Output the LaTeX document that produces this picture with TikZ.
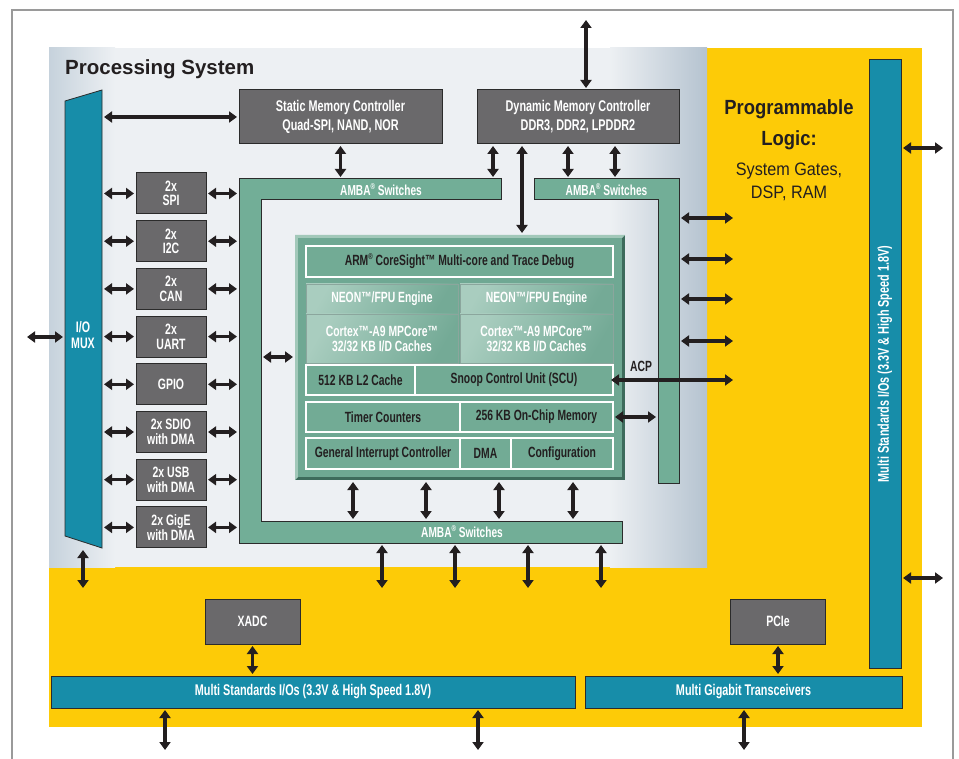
\documentclass[tikz,border=0pt]{standalone}
\usepackage{fontspec}
\setmainfont{Liberation Sans}
\newfontfamily\cond[FakeStretch=0.7]{Liberation Sans}
\newfontfamily\plfont[FakeStretch=0.9]{Liberation Sans}
\usetikzlibrary{arrows.meta,calc}
\definecolor{plyellow}{HTML}{FDCB07}
\definecolor{tealc}{HTML}{178DA9}
\definecolor{boxgray}{HTML}{6A696B}
\definecolor{ambagreen}{HTML}{72AE97}
\definecolor{coregreen}{HTML}{6FA893}
\definecolor{cellgreen}{HTML}{72AB95}
\definecolor{coredark}{HTML}{3E6B5C}
\definecolor{corelight}{HTML}{A2C8B9}
\definecolor{neonlight}{HTML}{A9CDBF}
\definecolor{neondark}{HTML}{74AA96}
\definecolor{lined}{HTML}{2B2B2B}
\definecolor{arrowc}{HTML}{231F20}
\definecolor{txtdark}{HTML}{231F20}
\definecolor{bglight}{HTML}{EDF0F3}
\definecolor{bgleft}{HTML}{C6D2DC}
\definecolor{bgright}{HTML}{B5C3D0}
\definecolor{framegray}{HTML}{9A9A9A}
\newcommand\cf{\cond\bfseries}
\newcommand\regm{\raisebox{0.4em}{\fontsize{8.5}{8.5}\selectfont ®}}
\begin{document}
\begin{tikzpicture}[x=1pt,y=-1pt,
  arr/.style={draw=arrowc, line width=3.4pt, arrows={Triangle[width=11pt,length=8pt]-Triangle[width=11pt,length=8pt]}},
  gap/.style={shorten >=2pt, shorten <=2pt},
  gbox/.style={draw=lined, line width=1pt, fill=boxgray, text=white, font=\cf\fontsize{15}{14.5}\selectfont, align=center, inner sep=0pt, outer sep=0pt},
  tbox/.style={draw=lined, line width=1pt, fill=tealc, text=white, font=\cf\fontsize{15.5}{16}\selectfont, align=center, inner sep=0pt, outer sep=0pt},
  cell/.style={draw=white, line width=1.2pt, fill=cellgreen, text=txtdark, font=\cf\fontsize{14.8}{15}\selectfont, align=center, inner sep=0pt, outer sep=0pt},
  neon/.style={draw=coredark!60, line width=0.6pt, left color=neonlight, right color=neondark, shading angle=60, text=white, font=\cf\fontsize{14.8}{15}\selectfont, align=center, inner sep=0pt, outer sep=0pt},
  ambatxt/.style={text=white, font=\cf\fontsize{14.5}{15}\selectfont, inner sep=0pt}
]
\useasboundingbox (0,0) rectangle (959,759);
% frame
\draw[framegray, line width=1.5pt] (12,765) -- (12,10) -- (953,10) -- (953,765);
% PL
\fill[plyellow] (49,48) rectangle (922,727);
% PS background
\fill[bglight] (49,48) rectangle (707,567);
\shade[left color=bgleft, right color=bglight] (49,48) rectangle (115,567);
\shade[left color=bglight, right color=bgright] (610,48) rectangle (707,567);
\node[anchor=base west, inner sep=0pt, text=txtdark, font=\bfseries\fontsize{20.5}{24}\selectfont] (pstitle) at (65,75) {Processing System};
% PL text
\node[anchor=base, inner sep=0pt, text=txtdark, font=\plfont\bfseries\fontsize{20.5}{24}\selectfont] (pl1) at (789,115) {Programmable};
\node[anchor=base, inner sep=0pt, text=txtdark, font=\plfont\bfseries\fontsize{20.5}{24}\selectfont] (pl2) at (789,146) {Logic:};
\node[anchor=base, inner sep=0pt, text=txtdark, font=\plfont\fontsize{18}{22}\selectfont] (pl3) at (789,176) {System Gates,};
\node[anchor=base, inner sep=0pt, text=txtdark, font=\plfont\fontsize{18}{22}\selectfont] (pl4) at (789,199) {DSP, RAM};
% I/O MUX
\filldraw[fill=tealc, draw=lined, line width=0.8pt] (65,101) -- (102,90) -- (102,548) -- (65,536) -- cycle;
\node[text=white, font=\cf\fontsize{15.2}{16}\selectfont, align=center, inner sep=0pt] (iomux) at (83,335) {I/O\\MUX};
\coordinate (muxR) at (102,335);
\coordinate (muxL) at (65,337);
\coordinate (extL) at (27,337);
\coordinate (muxB) at (83,550);
\coordinate (muxBe) at (83,588);
\coordinate (ambaL) at (239,0);
\coordinate (ambaT) at (0,179);
% AMBA frames
\filldraw[fill=ambagreen, draw=lined, line width=1pt] (239,179) -- (501,179) -- (501,200) -- (261,200) -- (261,521) -- (622,521) -- (622,543) -- (239,543) -- cycle;
\filldraw[fill=ambagreen, draw=lined, line width=1pt] (534,179) -- (679,179) -- (679,483) -- (658,483) -- (658,200) -- (534,200) -- cycle;
\node[ambatxt] (amba1) at (381,190) {AMBA\regm{} Switches};
\node[ambatxt] (amba2) at (606.5,190) {AMBA\regm{} Switches};
\node[ambatxt] (amba3) at (462,532) {AMBA\regm{} Switches};
% peripherals
\node[gbox, minimum width=70pt, minimum height=41pt] (spi) at (171,193.5) {2x\\SPI};
\node[gbox, minimum width=70pt, minimum height=41pt] (i2c) at (171,241.2) {2x\\I2C};
\node[gbox, minimum width=70pt, minimum height=41pt] (can) at (171,288.9) {2x\\CAN};
\node[gbox, minimum width=70pt, minimum height=41pt] (uart) at (171,336.6) {2x\\UART};
\node[gbox, minimum width=70pt, minimum height=41pt] (gpio) at (171,384.3) {GPIO};
\node[gbox, minimum width=70pt, minimum height=41pt] (sdio) at (171,432) {2x SDIO\\with DMA};
\node[gbox, minimum width=70pt, minimum height=41pt] (usb) at (171,479.7) {2x USB\\with DMA};
\node[gbox, minimum width=70pt, minimum height=41pt] (gige) at (171,527.4) {2x GigE\\with DMA};
\foreach \b in {spi,i2c,can,uart,gpio,sdio,usb,gige}{
  \draw[arr,gap] (\b.west -| muxR) -- (\b.west);
  \draw[arr,gap] (\b.east) -- (\b.east -| ambaL);
}
\draw[arr, shorten >=2pt] (extL) -- (muxL);
\draw[arr] (muxB) -- (muxBe);
% memory controllers
\node[gbox, minimum width=203pt, minimum height=54pt, font=\cf\fontsize{15.5}{19}\selectfont] (smc) at (340.5,117) {Static Memory Controller\\Quad-SPI, NAND, NOR};
\node[gbox, minimum width=202pt, minimum height=54pt, font=\cf\fontsize{15.5}{19}\selectfont] (dmc) at (578,117) {Dynamic Memory Controller\\DDR3, DDR2, LPDDR2};
\draw[arr,gap] (smc.west -| muxR) -- (smc.west);
\draw[arr,gap] (smc.south) -- (smc.south |- ambaT);
\coordinate (dtop) at (586,20);
\draw[arr, shorten >=2pt] (dtop) -- (dtop |- dmc.north);
\coordinate (d1) at (493,0);
\coordinate (d2) at (522,0);
\coordinate (d3) at (568,0);
\coordinate (d4) at (615,0);
\foreach \d in {d1,d3,d4}{ \draw[arr,gap] (dmc.south -| \d) -- (ambaT -| \d); }
% core
\node[minimum width=330pt, minimum height=245pt, inner sep=0pt, outer sep=0pt] (core) at (460,357.5) {};
\fill[coredark] (core.south west) rectangle (core.north east);
\fill[corelight] (core.south west) -- (core.north west) -- (core.north east) -- ($(core.north east)+(-3,3)$) -- ($(core.north west)+(3,3)$) -- ($(core.south west)+(3,-3)$) -- cycle;
\fill[coregreen] ($(core.north west)+(3,3)$) rectangle ($(core.south east)+(-3,-3)$);
\draw[arr,gap] (dmc.south -| d2) -- (core.north -| d2);
\node[cell, minimum width=307pt, minimum height=31pt] (cs) at (459.5,261.5) {ARM\regm{} CoreSight™ Multi-core and Trace Debug};
\node[neon, minimum width=152pt, minimum height=29pt] (neonL) at (382,298.5) {NEON™/FPU Engine};
\node[neon, minimum width=153pt, minimum height=29pt] (neonR) at (536.5,298.5) {NEON™/FPU Engine};
\node[neon, minimum width=152pt, minimum height=49pt] (cortexL) at (382,338.5) {Cortex™-A9 MPCore™\\32/32 KB I/D Caches};
\node[neon, minimum width=153pt, minimum height=49pt] (cortexR) at (536.5,338.5) {Cortex™-A9 MPCore™\\32/32 KB I/D Caches};
\node[cell, minimum width=109pt, minimum height=30pt] (l2) at (360.5,380) {512 KB L2 Cache};
\node[cell, minimum width=198pt, minimum height=30pt] (scu) at (514,380) {Snoop Control Unit (SCU)};
\node[cell, minimum width=154pt, minimum height=30pt] (timer) at (383,417) {Timer Counters};
\node[cell, minimum width=153pt, minimum height=30pt] (ocm) at (536.5,417) {256 KB On-Chip Memory};
\node[cell, minimum width=154pt, minimum height=31pt] (gic) at (383,453.5) {General Interrupt Controller};
\node[cell, minimum width=51pt, minimum height=31pt] (dma) at (485.5,453.5) {DMA};
\node[cell, minimum width=102pt, minimum height=31pt] (config) at (562,453.5) {Configuration};
% core connections
\coordinate (ambaLi) at (261,357);
\draw[arr,gap] (ambaLi) -- (ambaLi -| core.west);
\coordinate (ambaRi) at (658,0);
\draw[arr,gap] (ocm.east) -- (ocm.east -| ambaRi);
\coordinate (plx) at (733,0);
\node[text=txtdark, font=\cf\fontsize{14.8}{15}\selectfont, inner sep=0pt] (acp) at (641,366) {ACP};
\draw[arr, shorten >=-2pt] (plx |- scu.east) -- (scu.east);
\foreach \y [count=\i] in {218,259,299,341}{
  \coordinate (ro\i) at (679,\y);
  \draw[arr, shorten <=2pt] (ro\i) -- (ro\i -| plx);
}
\coordinate (ambaB) at (0,521);
\coordinate (ambaBb) at (0,543);
\foreach \x [count=\i] in {353,426,499,573}{
  \coordinate (cb\i) at (\x,0);
  \draw[arr,gap] (core.south -| cb\i) -- (ambaB -| cb\i);
}
\foreach \x [count=\i] in {382,455,528,601}{
  \coordinate (ob\i) at (\x,588);
  \draw[arr, shorten <=2pt] (ambaBb -| ob\i) -- (ob\i);
}
% PL side
\node[tbox, minimum width=32pt, minimum height=608pt] (vbar) at (885,364) {\rotatebox{90}{Multi Standards I/Os (3.3V \& High Speed 1.8V)}};
\coordinate (vr1) at (943,148);
\coordinate (vr2) at (943,578);
\draw[arr, shorten <=2pt] (vbar.east |- vr1) -- (vr1);
\draw[arr, shorten <=2pt] (vbar.east |- vr2) -- (vr2);
\node[gbox, minimum width=95pt, minimum height=45pt] (xadc) at (252.5,621.5) {XADC};
\node[gbox, minimum width=95pt, minimum height=45pt] (pcie) at (778,621.5) {PCIe};
\node[tbox, minimum width=524pt, minimum height=32pt] (msio) at (313,692) {Multi Standards I/Os (3.3V \& High Speed 1.8V)};
\node[tbox, minimum width=317pt, minimum height=32pt] (mgt) at (743.5,692) {Multi Gigabit Transceivers};
\draw[arr,gap] (xadc.south) -- (xadc.south |- msio.north);
\draw[arr,gap] (pcie.south) -- (pcie.south |- mgt.north);
\coordinate (bo1) at (165,750);
\coordinate (bo2) at (478,750);
\coordinate (bo3) at (744,750);
\draw[arr, shorten <=2pt] (msio.south -| bo1) -- (bo1);
\draw[arr, shorten <=2pt] (msio.south -| bo2) -- (bo2);
\draw[arr, shorten <=2pt] (mgt.south -| bo3) -- (bo3);
\end{tikzpicture}
\end{document}
